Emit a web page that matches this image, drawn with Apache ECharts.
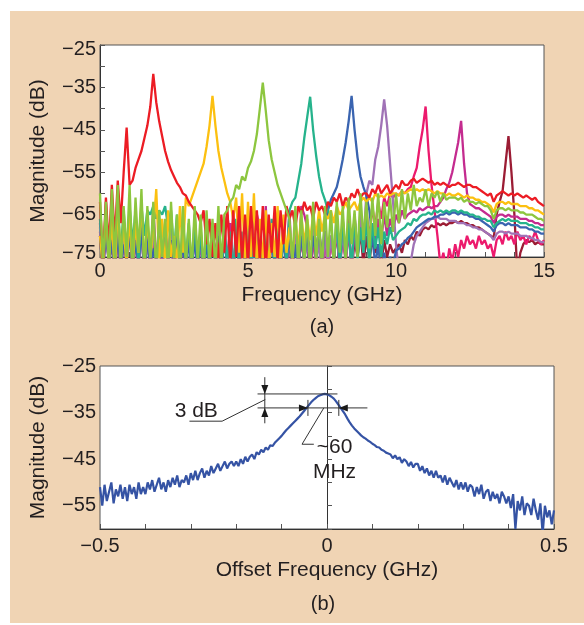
<!DOCTYPE html>
<html><head><meta charset="utf-8">
<script src="https://cdn.jsdelivr.net/npm/echarts@6/dist/echarts.min.js"></script>
<style>
html,body{margin:0;padding:0;background:#fff;}
#bg{position:absolute;left:10px;top:11px;width:574px;height:612px;background:#f0d4b4;}
#c{position:absolute;left:0;top:0;width:584px;height:625px;}
</style>
</head><body><div id="bg"></div><div id="c"></div>
<script>
// ---------- Panel (a): spectra, sampled every 0.1 GHz from 0 to 15 GHz ----------
const FREQ_STEP = 0.1;
const red = [
-62,-76,-61,-73,-58,-71,-57,-67,-55,-44.5,
-58,-57,-54,-52,-50,-47,-44,-39.5,-31.8,-38.5,
-43,-46.5,-50,-52.5,-54.5,-56,-57.5,-58.5,-60,-60.5,
-62,-63,-64,-65,-67,-64,-72,-66,-75,-67,
-76,-65,-74,-63,-77,-64,-75,-63,-76,-65,
-77,-63,-75,-64,-76,-63,-78,-65,-74,-63,
-76,-64,-72,-63,-66,-64,-68,-63,-65,-62,
-64,-63,-66,-62,-64,-63,-65,-62,-63,-61,
-62,-60,-63,-61,-62,-60,-61,-59,-61,-60,
-60,-61,-59,-60,-58,-60,-59,-58,-60,-59,
-58,-59,-57,-58,-58,-57,-56.5,-57.5,-57,-56.5,
-57,-57.5,-57,-58,-57.5,-58,-57.5,-58,-58.5,-58,
-58,-57.5,-58,-58.5,-58,-58,-58.5,-58.5,-59,-59.5,
-60,-60.5,-60,-62,-60.5,-60,-59.5,-60,-60.5,-60,
-60.5,-60,-60.5,-61,-60.5,-61,-61.5,-61,-62,-62.5,
-63];
const yellow = [
-70,-78,-64,-76,-66,-79,-63,-75,-68,-77,
-65,-78,-67,-74,-62,-77,-66,-75,-69,-59,
-76,-66,-78,-64,-75,-70,-77,-63,-74,-61,
-63,-61,-59,-57,-55,-53,-49,-44,-37,-44,
-50,-54,-57,-60,-62,-66,-61,-74,-60,-77,
-62,-75,-60,-78,-66,-76,-64,-79,-67,-75,
-63,-77,-65,-74,-68,-76,-66,-73,-65,-72,
-66,-71,-65,-70,-64,-69,-65,-66,-64,-67,
-63,-65,-64,-62,-64,-63,-62,-64,-62,-61,
-62,-61,-62,-60,-61,-60.5,-61,-60,-60.5,-60,
-60,-60.5,-59.5,-60,-59.5,-59,-59.5,-59,-59.5,-59,
-59.5,-59,-59.5,-60,-59.5,-60,-60,-60.5,-60,-60.5,
-60.5,-60,-60.5,-61,-60.5,-61,-61,-61.5,-61.5,-62,
-62,-62.5,-63,-64.5,-62.5,-62,-62,-62.5,-62,-62.5,
-62.5,-62.5,-63,-63,-63,-63.5,-63.5,-64,-64,-64.5,
-65];
const green = [
-60,-77,-62,-78,-59,-76,-58,-79,-63,-75,
-58,-78,-61,-74,-59,-79,-63,-76,-62,-80,
-64,-75,-66,-79,-62,-76,-65,-80,-63,-77,
-66,-78,-63,-76,-65,-79,-64,-77,-66,-78,
-63,-77,-65,-64,-62,-61,-58,-59,-56,-57,
-54,-52.5,-50,-46,-40,-33.9,-40.5,-47.5,-52,-55,
-58,-60,-62,-64,-66,-76,-63,-78,-64,-77,
-65,-79,-62,-76,-66,-78,-63,-75,-64,-77,
-62,-74,-63,-76,-61,-72,-64,-75,-60,-71,
-62,-73,-61,-70,-60,-72,-62,-68,-61,-69,
-60,-67,-59,-66,-60,-64,-58,-63,-61,-62,
-59,-63,-60,-61,-59.5,-62,-60,-61.5,-61,-61,
-61,-61.5,-61,-62,-61.5,-62,-62,-62.5,-62,-62.5,
-63,-63,-64,-66,-64,-63.5,-63.5,-64,-63.5,-64,
-64,-64,-64.5,-64.5,-65,-65,-65,-65.5,-66,-66,
-66.5];
const teal = [
-66,-78,-64,-75,-65,-79,-63,-74,-64,-76,
-63,-72,-64,-77,-63,-70,-64,-65,-63,-66,
-64,-65,-63,-68,-64,-74,-65,-79,-66,-76,
-67,-79,-65,-77,-68,-80,-66,-78,-69,-76,
-70,-79,-67,-77,-69,-80,-66,-78,-71,-77,
-68,-79,-70,-76,-67,-80,-69,-77,-66,-78,
-68,-79,-66,-77,-64,-62,-61,-57,-53,-47,
-42,-37.2,-45,-51,-56,-59.5,-61.5,-64,-66,-76,
-65,-78,-66,-75,-67,-79,-65,-76,-68,-74,
-66,-77,-67,-73,-68,-75,-69,-72,-68,-71,
-70,-69,-68.5,-68,-67,-67.5,-66,-66.5,-65.5,-65,
-65,-64.5,-65,-64,-64.5,-64,-64.5,-64,-64.5,-64,
-64,-64.5,-64,-64.5,-64.5,-65,-65,-65.5,-65.5,-66,
-66,-66.5,-66.5,-68,-67,-66.5,-66,-66.5,-66,-66.5,
-66.5,-66.5,-67,-67,-67,-67.5,-67.5,-68,-68,-68.5,
-68.5];
const blue = [
-70,-79,-68,-77,-71,-80,-69,-78,-72,-76,
-69,-79,-71,-77,-68,-80,-70,-78,-73,-77,
-70,-79,-69,-78,-71,-80,-70,-77,-72,-79,
-71,-78,-70,-80,-69,-77,-72,-79,-70,-78,
-72,-79,-70,-78,-73,-80,-71,-77,-69,-79,
-71,-78,-73,-80,-70,-77,-72,-79,-70,-78,
-73,-79,-71,-77,-69,-80,-72,-78,-70,-76,
-69,-77,-70,-75,-68,-76,-67,-64,-61.5,-60,
-58.5,-55.5,-52,-48,-43,-37,-45,-51.5,-56,-58.5,
-60.5,-64,-70,-77,-72,-79,-74,-78,-75,-77,
-73.5,-73,-72,-71.5,-70.5,-70,-69,-68,-67.5,-67,
-66.5,-66,-66,-65.5,-65.5,-65,-65,-64.5,-65,-64.5,
-64.5,-65,-64.5,-65,-65,-65.5,-65.5,-66,-66,-66.5,
-67,-67.5,-68,-69,-67.5,-67,-67,-67.5,-67,-67.5,
-67.5,-67.5,-68,-68,-68,-68.5,-68.5,-69,-69,-69.5,
-69.5];
const purple = [
-68,-79,-67,-77,-70,-80,-66,-78,-69,-76,
-67,-79,-70,-77,-68,-80,-71,-78,-69,-76,
-68,-79,-70,-77,-67,-80,-69,-78,-71,-77,
-70,-79,-68,-77,-71,-80,-69,-76,-70,-78,
-69,-79,-67,-77,-70,-80,-68,-78,-71,-76,
-68,-79,-70,-77,-67,-80,-69,-78,-70,-76,
-69,-79,-67,-77,-70,-80,-68,-78,-69,-77,
-70,-79,-68,-77,-71,-80,-69,-78,-70,-76,
-68,-78,-69,-76,-67,-79,-66,-75,-64,-72,
-60,-57,-58,-52,-49,-44,-37.8,-44,-53,-62,
-72,-79,-81,-82,-80,-76,-72,-70,-69,-68,
-67,-66.5,-66,-66,-65.5,-66,-66,-66,-66.5,-66.5,
-66.5,-67,-67,-67,-67.5,-67.5,-68,-68,-68.5,-68.5,
-69,-69.5,-70,-71,-69.5,-69,-69,-69.5,-69,-69.5,
-69.5,-69.5,-70,-70,-70,-70.5,-70.5,-71,-71,-71.5,
-71.5];
const pink = [
-69,-79,-66,-77,-70,-80,-67,-78,-71,-76,
-68,-79,-71,-77,-64,-80,-69,-78,-70,-76,
-71,-79,-68,-77,-70,-80,-67,-78,-69,-76,
-70,-79,-68,-77,-71,-80,-69,-78,-67,-76,
-70,-79,-68,-65,-71,-80,-69,-78,-70,-76,
-68,-79,-70,-77,-67,-80,-69,-78,-70,-76,
-69,-79,-67,-77,-70,-80,-68,-78,-71,-76,
-68,-79,-70,-77,-67,-80,-69,-78,-70,-76,
-67,-78,-66,-76,-68,-79,-65,-75,-67,-73,
-64,-71,-63,-68,-62,-66,-61,-63,-60,-61,
-60,-60.5,-59.5,-60,-59,-58.5,-56,-54,-49,-45,
-39.5,-50,-58,-64,-70,-77,-74,-78,-73,-76,
-72,-75,-71,-73,-70,-72,-71,-73,-70,-72,
-71,-73,-72,-75,-71,-70,-72,-69,-71,-70,
-72,-69,-71,-70,-72,-70,-71,-69,-71,-72,
-71];
const magenta = [
-67,-79,-62,-77,-70,-80,-66,-78,-71,-76,
-68,-79,-70,-77,-67,-80,-69,-78,-63,-76,
-70,-79,-68,-77,-66,-80,-69,-78,-70,-76,
-69,-79,-67,-77,-70,-80,-68,-78,-71,-76,
-68,-79,-70,-77,-67,-80,-69,-78,-70,-76,
-66,-79,-64,-65,-68,-80,-63,-78,-70,-76,
-69,-79,-67,-77,-64,-80,-68,-78,-63,-65,
-68,-79,-70,-77,-67,-80,-69,-78,-70,-76,
-67,-78,-68,-76,-66,-79,-67,-75,-68,-74,
-66,-73,-67,-72,-66,-71,-65,-70,-66,-69,
-65,-67,-64,-66,-65,-64.5,-64,-64.5,-63.5,-64,
-63.5,-63,-63.5,-63,-63,-62,-61,-59,-57.5,-55,
-51.5,-48,-42.9,-53,-60,-62.5,-63,-63.5,-63.5,-64,
-64.5,-65,-65.5,-67,-65.5,-65,-65,-65.5,-65,-65.5,
-65.5,-65.5,-66,-66,-66,-66.5,-66.5,-67,-67,-67.5,
-67.5];
const darkRed = [
-70,-79,-68,-77,-71,-80,-69,-78,-66,-76,
-68,-79,-70,-77,-67,-80,-69,-78,-71,-76,
-69,-79,-67,-77,-70,-80,-68,-78,-71,-76,
-70,-79,-68,-77,-71,-80,-69,-78,-67,-76,
-68,-79,-70,-77,-67,-80,-69,-78,-70,-76,
-69,-79,-67,-77,-70,-80,-68,-78,-71,-76,
-70,-79,-68,-77,-71,-80,-69,-78,-70,-76,
-68,-79,-70,-77,-67,-80,-69,-78,-70,-76,
-69,-78,-70,-76,-68,-79,-71,-75,-69,-77,
-70,-76,-71,-74,-72,-77,-71,-75,-72,-74,
-73,-72,-74,-71,-72,-70,-71,-69,-70,-68.5,
-68,-68.5,-67.5,-68,-67,-67.5,-67,-67.5,-67,-67,
-66.5,-67,-66.5,-67,-67,-67.5,-67.5,-68,-68,-68.5,
-69,-69.5,-70,-70.5,-65,-62,-59.5,-53,-46.5,-55,
-65,-79,-74,-72,-71,-71.5,-71,-72,-71.5,-72,
-72];
const topXTickLabels = [0, 5, 10, 15];
const topYTickLabels = [-75, -65, -55, -45, -35, -25];

// ---------- Panel (b): single line, sampled every 0.005 GHz from -0.5 to 0.5 ----------
const OFFSET_START = -0.5, OFFSET_STEP = 0.005;
const lineB = [
-51,-55,-50.5,-54,-52,-50,-54.5,-51.5,-53,-50.5,-53.5,-51,-54,-50.5,-52.5,-51,-53.5,-50,-52.5,-51,
-52.5,-50,-51.5,-49.5,-52,-50.5,-49,-51.5,-50,-52,-49.5,-51,-49,-50.5,-48.5,-51,-49.5,-50,-48.5,-50.5,
-48,-49.5,-47.5,-49.5,-48,-47,-49,-47.5,-48.5,-46.5,-48,-47,-46,-47.5,-46.5,-45.5,-47,-46,-45.5,-46.5,
-45.5,-46.5,-45,-46,-44.5,-45.5,-44.5,-44,-45,-43.5,-44,-43,-43.5,-42.5,-43,-42,-42.2,-41.5,-41,-40.5,
-40,-39.4,-38.8,-38.3,-37.8,-37.3,-36.8,-36.3,-35.8,-35.2,-34.6,-34,-33.4,-32.8,-32.3,-31.9,-31.5,-31.3,-31.1,-31,
-31.1,-31.3,-31.6,-32,-32.6,-33.3,-34,-34.7,-35.4,-36.3,-37.1,-37.8,-38.4,-38.9,-39.4,-39.9,-40.3,-40.6,-41,-41.3,
-41.7,-42,-42.4,-42.5,-43,-43.2,-43.6,-43.8,-44,-44.8,-44.2,-45,-44.6,-45.8,-45,-45.5,-46.5,-45.6,-46.8,-46,
-46,-47.5,-46.5,-48,-47,-48.5,-47.5,-49,-47.5,-49,-48.5,-50,-48.5,-50.5,-49,-50,-51,-49.5,-51.5,-50,
-51.5,-50,-52,-50.5,-51,-53,-51,-52.5,-50.5,-53.5,-52,-51.5,-54,-52,-53.5,-52.5,-54.5,-52,-53,-54.5,
-53,-55.5,-52.5,-60,-54,-56,-53,-57,-54.5,-55,-57,-53.5,-56,-58,-54.5,-61,-55,-57.5,-56,-59,
-56];
const botXTickLabels = [-0.5, 0, 0.5];
const botYTickLabels = [-55, -45, -35, -25];

// annotation anchors in panel (b) data coordinates
const ann = {
  peakLevel: -31, halfLevel: -34,
  lineLeft: -0.153, upperRight: 0.023, lowerRight: 0.089,
  arrowX: -0.137, arrowTop: -27.4, arrowBottom: -37.3,
  widthLeft: -0.042, widthRight: 0.026,
  label3dB: [-0.288, -34.6], leader3dB: [[-0.136, -32.2], [-0.231, -36.85], [-0.303, -36.85]],
  labelMHz: [0.0166, -42.45], labelMHz2: [0.0166, -47.7],
  leaderMHz: [[-0.007, -34], [-0.055, -41.8], [-0.029, -41.8]]
};

const FONT = '"Liberation Sans", Arial, Helvetica, sans-serif';
const TXT = '#231f20';
const minus = v => (v < 0 ? '\u2212' + Math.abs(v) : String(v));
const near = (v, list) => list.some(t => Math.abs(v - t) < 1e-6);

const toPairs = (arr, start, step) => arr.map((v, i) => [+(start + i * step).toFixed(4), v]);

const chart = echarts.init(document.getElementById('c'), null, {renderer: 'canvas'});

const topSeries = [
  ['darkRed', darkRed, '#9b1c34'],
  ['magenta', magenta, '#c42b8f'],
  ['pink', pink, '#ec1a6d'],
  ['purple', purple, '#a072b6'],
  ['blue', blue, '#3a64b0'],
  ['teal', teal, '#26b38c'],
  ['yellow', yellow, '#fcc010'],
  ['red', red, '#ec1c24'],
  ['green', green, '#8dc63f']
].map(([name, arr, color]) => ({
  name, type: 'line', xAxisIndex: 0, yAxisIndex: 0,
  data: toPairs(arr, 0, FREQ_STEP),
  showSymbol: false, clip: true, animation: false,
  lineStyle: {color, width: 2.3}
}));

const axisCommon = {
  axisLine: {show: true, lineStyle: {color: '#333', width: 1}},
  axisTick: {show: true, inside: true, length: 5, lineStyle: {color: '#555'}},
  splitLine: {show: false},
  nameLocation: 'middle',
  nameTextStyle: {fontFamily: FONT, fontSize: 21, color: TXT}
};
const LBL = 20;
const lblStyle = {fontFamily: FONT, fontSize: LBL, color: TXT};

const option = {
  backgroundColor: 'transparent',
  animation: false,
  grid: [
    {left: 100, top: 45, width: 444, height: 212, show: true, backgroundColor: '#fff', borderColor: '#555', borderWidth: 1, outerBoundsMode: 'none'},
    {left: 100, top: 366, width: 454, height: 163, show: true, backgroundColor: '#fff', borderColor: '#555', borderWidth: 1, outerBoundsMode: 'none'}
  ],
  xAxis: [
    Object.assign({}, axisCommon, {
      type: 'value', gridIndex: 0, min: 0, max: 15, interval: 1,
      name: 'Frequency (GHz)', nameGap: 28,
      axisLabel: Object.assign({}, lblStyle, {margin: 4, showMinLabel: true, showMaxLabel: true,
        formatter: v => near(v, topXTickLabels) ? String(Math.round(v)) : ''})
    }),
    Object.assign({}, axisCommon, {
      type: 'value', gridIndex: 1, min: -0.5, max: 0.5, interval: 0.1,
      name: 'Offset Frequency (GHz)', nameGap: 31,
      axisLabel: Object.assign({}, lblStyle, {margin: 7, showMinLabel: true, showMaxLabel: true,
        formatter: v => near(v, botXTickLabels) ? minus(Math.round(v * 10) / 10) : ''})
    })
  ],
  yAxis: [
    Object.assign({}, axisCommon, {
      type: 'value', gridIndex: 0, min: -75, max: -25, interval: 5,
      name: 'Magnitude (dB)', nameGap: 51, nameRotate: 90,
      axisLabel: Object.assign({}, lblStyle, {margin: 4, showMinLabel: true, showMaxLabel: true,
        formatter: v => {
          if (!near(v, topYTickLabels)) return '';
          if (v === -25) return '{t|' + minus(v) + '}';
          if (v === -75) return '{b|' + minus(v) + '}';
          return minus(v);
        },
        rich: {
          t: {fontFamily: FONT, fontSize: LBL, color: TXT, padding: [8, 0, 0, 0]},
          b: {fontFamily: FONT, fontSize: LBL, color: TXT, padding: [0, 0, 8, 0]}
        }})
    }),
    Object.assign({}, axisCommon, {
      type: 'value', gridIndex: 1, min: -60, max: -25, interval: 5,
      name: 'Magnitude (dB)', nameGap: 51, nameRotate: 90,
      axisLabel: Object.assign({}, lblStyle, {margin: 4, showMinLabel: true, showMaxLabel: true,
        formatter: v => near(v, botYTickLabels) ? minus(v) : ''})
    })
  ],
  series: topSeries.concat([{
    name: 'offset', type: 'line', xAxisIndex: 1, yAxisIndex: 1,
    data: toPairs(lineB, OFFSET_START, OFFSET_STEP),
    showSymbol: false, clip: true, animation: false,
    lineStyle: {color: '#3553a4', width: 2.2}
  }])
};
chart.setOption(option);

// ---- annotations ----
const P = (x, y) => chart.convertToPixel({gridIndex: 1}, [x, y]);
const g = [];
const STK = '#333';
function seg(a, b) { g.push({type: 'line', z: 100, shape: {x1: a[0], y1: a[1], x2: b[0], y2: b[1]}, style: {stroke: STK, lineWidth: 1}}); }
function pl(pts) { g.push({type: 'polyline', z: 100, shape: {points: pts}, style: {stroke: STK, lineWidth: 1, fill: null}}); }
function head(tip, dir) {
  const L = 9, W = 3.5, x = tip[0], y = tip[1];
  let pts;
  if (dir === 'down') pts = [[x, y], [x - W, y - L], [x + W, y - L]];
  if (dir === 'up') pts = [[x, y], [x - W, y + L], [x + W, y + L]];
  if (dir === 'right') pts = [[x, y], [x - L, y - W], [x - L, y + W]];
  if (dir === 'left') pts = [[x, y], [x + L, y - W], [x + L, y + W]];
  g.push({type: 'polygon', z: 101, shape: {points: pts}, style: {fill: '#1a1a1a'}});
}
function txt(p, s) {
  g.push({type: 'text', z: 102, x: p[0], y: p[1], style: {text: s, fontFamily: FONT, fontSize: 21, fill: TXT, align: 'center', verticalAlign: 'middle'}});
}
const upL = P(ann.lineLeft, ann.peakLevel), upR = P(ann.upperRight, ann.peakLevel);
const loL = P(ann.lineLeft, ann.halfLevel), loR = P(ann.lowerRight, ann.halfLevel);
seg(upL, upR); seg(loL, loR);
const aTop = P(ann.arrowX, ann.arrowTop), aBot = P(ann.arrowX, ann.arrowBottom);
seg(aTop, aBot);
head(P(ann.arrowX, ann.peakLevel), 'down');
head(P(ann.arrowX, ann.halfLevel), 'up');
pl(ann.leader3dB.map(p => P(p[0], p[1])));
txt(P(ann.label3dB[0], ann.label3dB[1]), '3 dB');
const wl = P(ann.widthLeft, ann.halfLevel), wr = P(ann.widthRight, ann.halfLevel);
seg([wl[0], wl[1] - 8], [wl[0], wl[1] + 8]);
seg([wr[0], wr[1] - 8], [wr[0], wr[1] + 8]);
head(wl, 'right'); head(wr, 'left');
pl(ann.leaderMHz.map(p => P(p[0], p[1])));
txt(P(ann.labelMHz[0], ann.labelMHz[1]), '~60');
txt(P(ann.labelMHz2[0], ann.labelMHz2[1]), 'MHz');
// panel captions
const capA = chart.convertToPixel({gridIndex: 0}, [7.5, -75]);
const capB = P(0, -60);
g.push({type: 'text', z: 102, x: capA[0], y: 327, style: {text: '(a)', fontFamily: FONT, fontSize: 20, fill: TXT, align: 'center', verticalAlign: 'middle'}});
g.push({type: 'text', z: 102, x: capB[0] - 4, y: 604, style: {text: '(b)', fontFamily: FONT, fontSize: 20, fill: TXT, align: 'center', verticalAlign: 'middle'}});
chart.setOption({graphic: g});
</script>
</body></html>
